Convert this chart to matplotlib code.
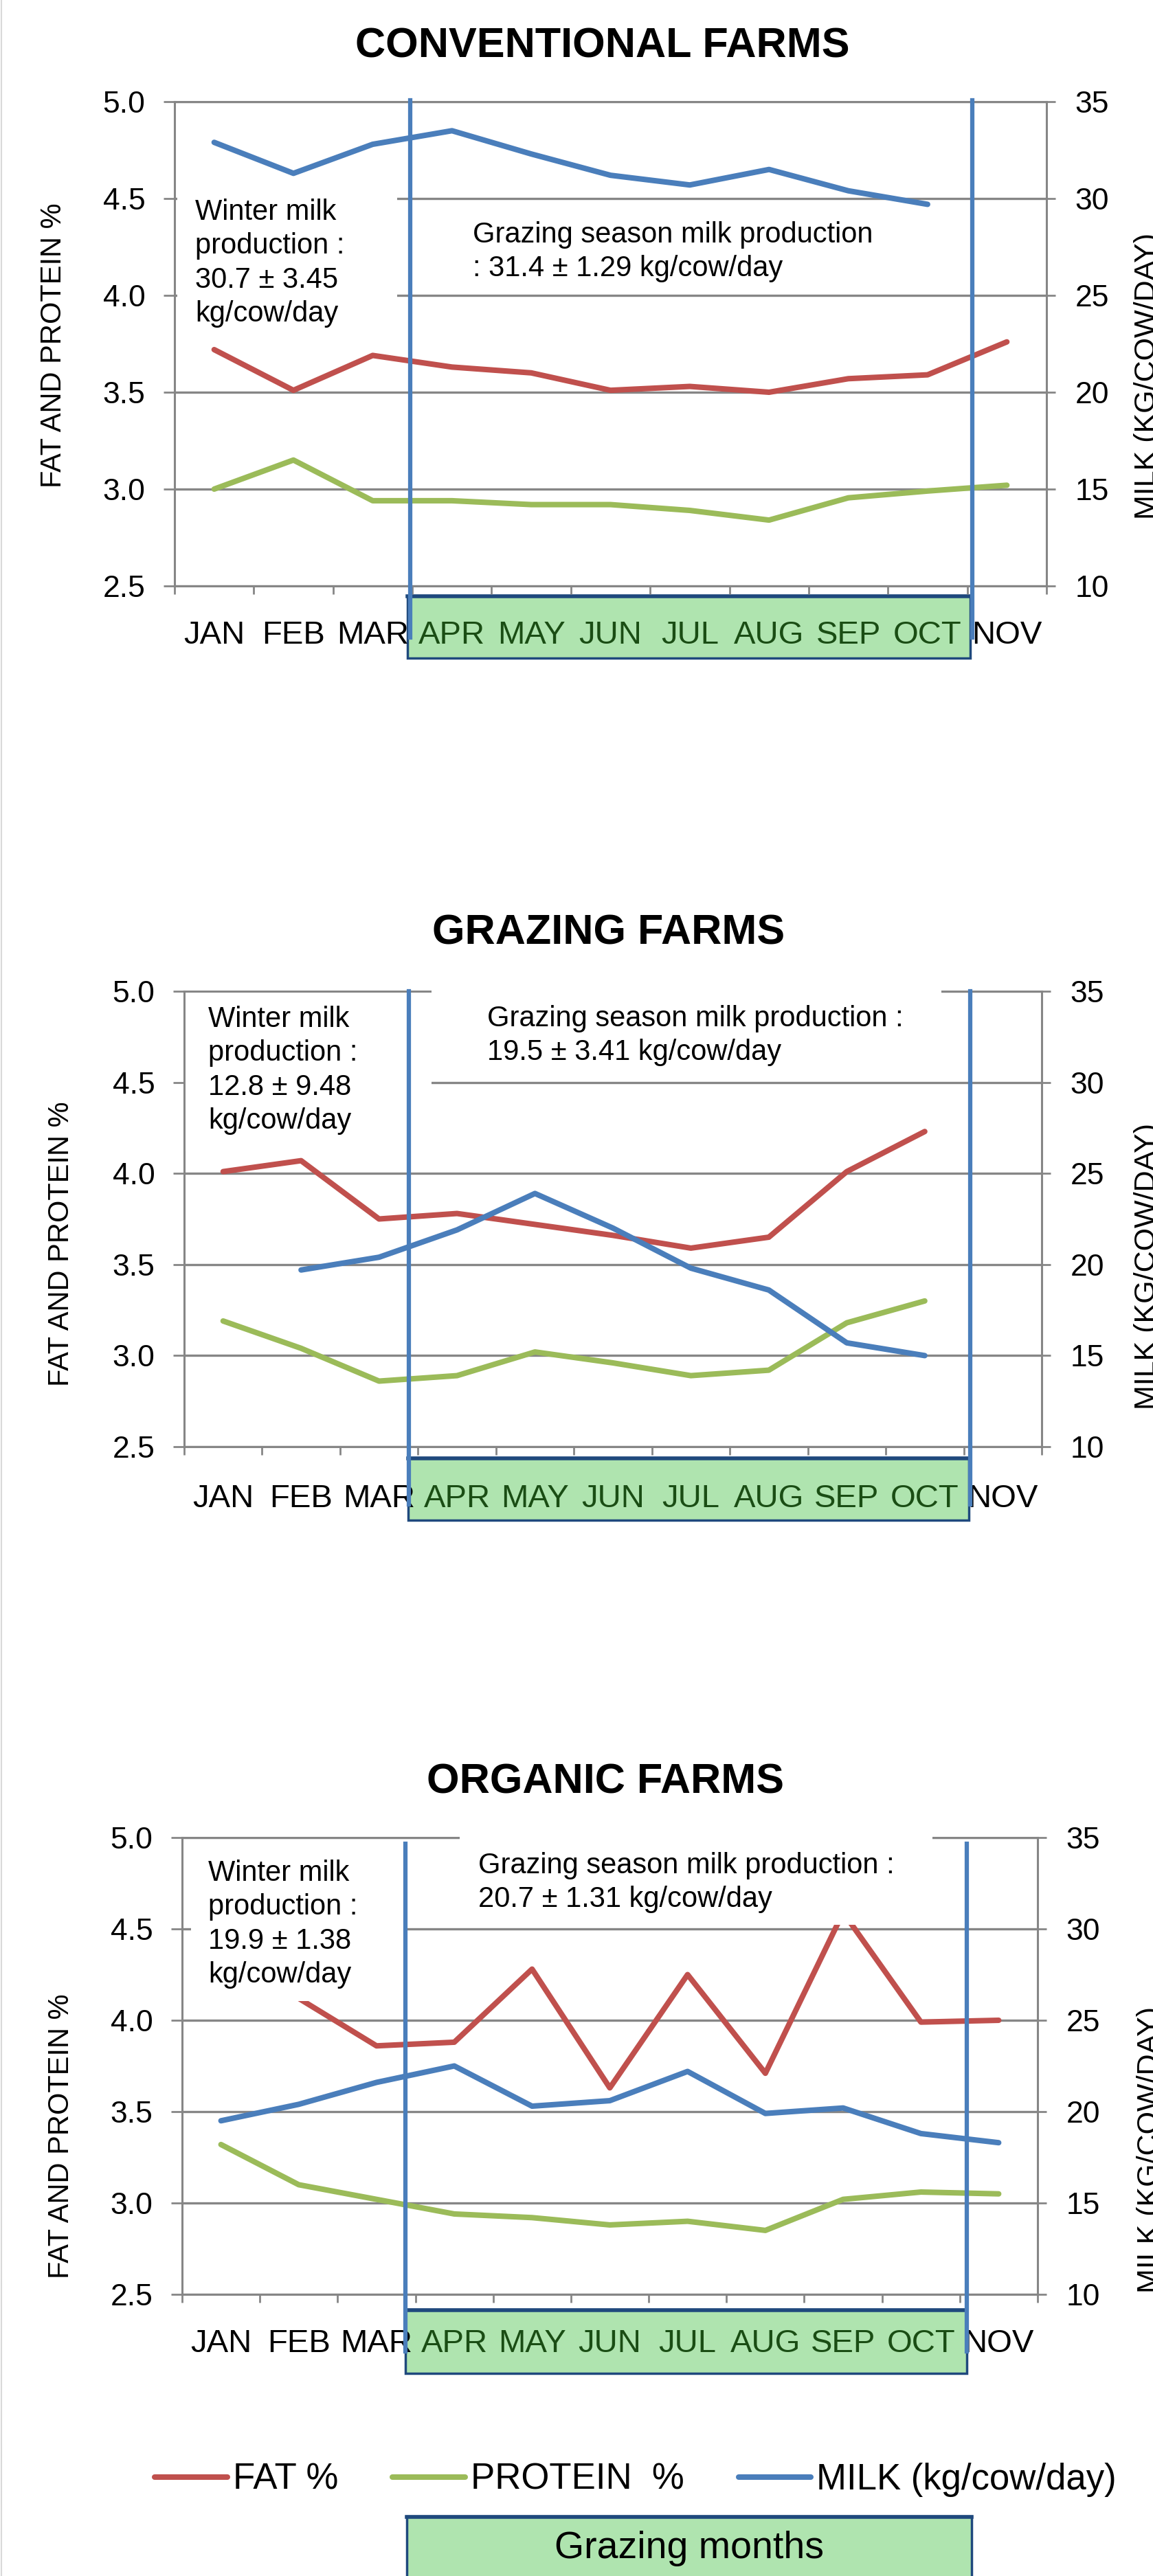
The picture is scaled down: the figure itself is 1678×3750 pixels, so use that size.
import numpy as np
import matplotlib
matplotlib.use('Agg')
import matplotlib.pyplot as plt
from matplotlib.patches import Rectangle
from matplotlib.lines import Line2D

# --- data -----------------------------------------------------------------
months = ['JAN', 'FEB', 'MAR', 'APR', 'MAY', 'JUN', 'JUL', 'AUG', 'SEP', 'OCT', 'NOV']
grazing_months = ['APR', 'MAY', 'JUN', 'JUL', 'AUG', 'SEP', 'OCT']
nan = np.nan

conv_fat = [3.72, 3.51, 3.69, 3.63, 3.60, 3.51, 3.53, 3.50, 3.57, 3.59, 3.76]
conv_protein = [3.00, 3.15, 2.94, 2.94, 2.92, 2.92, 2.89, 2.84, 2.955, 2.99, 3.02]
conv_milk = [32.9, 31.3, 32.8, 33.5, 32.3, 31.2, 30.7, 31.5, 30.4, 29.7, nan]

graz_fat = [4.01, 4.07, 3.75, 3.78, 3.72, 3.66, 3.59, 3.65, 4.01, 4.23, nan]
graz_protein = [3.19, 3.04, 2.86, 2.89, 3.02, 2.96, 2.89, 2.92, 3.18, 3.30, nan]
graz_milk = [nan, 19.7, 20.4, 21.9, 23.9, 22.0, 19.8, 18.6, 15.7, 15.0, nan]

org_fat = [4.30, 4.12, 3.86, 3.88, 4.28, 3.63, 4.25, 3.71, 4.59, 3.99, 4.00]
org_protein = [3.32, 3.10, 3.02, 2.94, 2.92, 2.88, 2.90, 2.85, 3.02, 3.06, 3.05]
org_milk = [19.5, 20.4, 21.6, 22.5, 20.3, 20.6, 22.2, 19.9, 20.2, 18.8, 18.3]

titles = ['CONVENTIONAL FARMS', 'GRAZING FARMS', 'ORGANIC FARMS']
winter_notes = ['Winter milk\nproduction :\n30.7 ± 3.45\nkg/cow/day',
                'Winter milk\nproduction :\n12.8 ± 9.48\nkg/cow/day',
                'Winter milk\nproduction :\n19.9 ± 1.38\nkg/cow/day']
grazing_notes = ['Grazing season milk production\n: 31.4 ± 1.29 kg/cow/day',
                 'Grazing season milk production :\n19.5 ± 3.41 kg/cow/day',
                 'Grazing season milk production :\n20.7 ± 1.31 kg/cow/day']

# --- style ----------------------------------------------------------------
RED = '#C0504D'
GREEN = '#9BBB59'
BLUE = '#4A7EBB'
GRID = '#868686'
BOXGREEN = '#AFE4AF'
NAVY = '#1F497D'
DARKGREEN = '#1A4D14'

W, H = 1678, 3750
plt.rcParams['font.family'] = ['Liberation Sans', 'DejaVu Sans']

fig = plt.figure(figsize=(W / 100, H / 100), dpi=100)


def fx(x):
    return x / W


def fy(y):
    return 1 - y / H


def rect(x0, y0, x1, y1, **kw):
    r = Rectangle((fx(x0), fy(y1)), (x1 - x0) / W, (y1 - y0) / H,
                  transform=fig.transFigure, **kw)
    fig.add_artist(r)


def vline(x, y0, y1, **kw):
    fig.add_artist(Line2D([fx(x), fx(x)], [fy(y0), fy(y1)],
                          transform=fig.transFigure, **kw))


# pixel layout of each panel
layouts = [
    dict(ax=(254, 148, 1523, 853), title=(877, 68), ylab=(78, 503), rlab=(1650, 547),
         pad=36, blue=(597, 1415, 146, 928), gbox=(593, 867, 1412, 958),
         wbox=(258, 268, 578, 488), wtxt=(284, 289),
         gwbox=None, gtxt=(688, 322)),
    dict(ax=(268, 1443, 1516, 2106), title=(886, 1359), ylab=(89, 1811), rlab=(1650, 1844),
         pad=39, blue=(595, 1412, 1443, 2190), gbox=(594, 2122, 1410, 2213),
         wbox=(270, 1445, 628, 1676), wtxt=(303, 1464),
         gwbox=(628, 1425, 1370, 1568), gtxt=(709, 1463)),
    dict(ax=(265, 2675, 1510, 3340), title=(881, 2595), ylab=(89, 3110), rlab=(1654, 3130),
         pad=36, blue=(590, 1407, 2684, 3423), gbox=(590, 3362, 1407, 3455),
         wbox=(278, 2690, 592, 2913), wtxt=(303, 2707),
         gwbox=(669, 2660, 1357, 2802), gtxt=(696, 2696)),
]

series = [(conv_fat, conv_protein, conv_milk),
          (graz_fat, graz_protein, graz_milk),
          (org_fat, org_protein, org_milk)]

x = np.arange(len(months))
line_kw = dict(lw=5.8, solid_capstyle='round', solid_joinstyle='round')

for i, lay in enumerate(layouts):
    fat, protein, milk = series[i]
    l, t, r, b = lay['ax']
    ax = fig.add_axes([fx(l), fy(b), (r - l) / W, (b - t) / H])
    ax.patch.set_visible(False)
    ax2 = ax.twinx()

    ax.plot(x, fat, color=RED, **line_kw)
    ax.plot(x, protein, color=GREEN, **line_kw)
    ax2.plot(x, milk, color=BLUE, **line_kw)

    ax.set_xlim(-0.5, len(months) - 0.5)
    ax.set_ylim(2.5, 5.0)
    ax.set_yticks(np.arange(2.5, 5.01, 0.5))
    ax.yaxis.set_major_formatter('{x:.1f}')
    ax2.set_ylim(10, 35)
    ax2.set_yticks(np.arange(10, 36, 5))

    ax.set_xticks(np.arange(-0.5, len(months)), labels=[])
    ax.set_xticks(x, labels=months, minor=True)
    for lab, m in zip(ax.get_xticklabels(minor=True), months):
        if m in grazing_months:
            lab.set_color(DARKGREEN)

    ax.grid(axis='y', color=GRID, lw=2.4)
    ax.set_axisbelow(True)
    for s in ['top', 'left', 'bottom']:
        ax.spines[s].set_color(GRID)
        ax.spines[s].set_linewidth(2.2)
    ax.spines['right'].set_visible(False)
    for s in ['top', 'left', 'bottom']:
        ax2.spines[s].set_visible(False)
    ax2.spines['right'].set_color(GRID)
    ax2.spines['right'].set_linewidth(2.2)

    ax.tick_params(axis='x', which='major', length=8.6, width=2, color=GRID, direction='out')
    ax.tick_params(axis='x', which='minor', length=0, pad=lay['pad'], labelsize=34)
    ax.tick_params(axis='y', length=11.5, width=2, color=GRID, pad=19, labelsize=32)
    ax2.tick_params(axis='y', length=9, width=2, color=GRID, pad=21, labelsize=32)

    # titles and axis labels
    fig.text(fx(lay['title'][0]), fy(lay['title'][1]), titles[i], fontsize=44,
             fontweight='bold', ha='center', va='center')
    fig.text(fx(lay['ylab'][0]), fy(lay['ylab'][1]), 'FAT AND PROTEIN %', fontsize=30,
             rotation=90, ha='center', va='center')
    fig.text(fx(lay['rlab'][0]), fy(lay['rlab'][1]), 'MILK (KG/COW/DAY)', fontsize=31,
             rotation=90, ha='left', va='center')

    # white note boxes
    rect(*lay['wbox'], facecolor='white', edgecolor='none', zorder=1)
    if lay['gwbox'] is not None:
        rect(*lay['gwbox'], facecolor='white', edgecolor='none', zorder=1)
    fig.text(fx(lay['wtxt'][0]), fy(lay['wtxt'][1]), winter_notes[i], fontsize=30,
             ha='left', va='top', linespacing=1.3, zorder=3)
    fig.text(fx(lay['gtxt'][0]), fy(lay['gtxt'][1]), grazing_notes[i], fontsize=30,
             ha='left', va='top', linespacing=1.3, zorder=3)

    # grazing season band under the axis
    gx0, gy0, gx1, gy1 = lay['gbox']
    rect(gx0, gy0, gx1, gy1, facecolor=BOXGREEN, edgecolor=NAVY, lw=2.5, zorder=-2)
    fig.add_artist(Line2D([fx(gx0), fx(gx1)], [fy(gy0 + 1), fy(gy0 + 1)],
                          transform=fig.transFigure, color=NAVY, lw=4, zorder=-1))

    bx0, bx1, by0, by1 = lay['blue']
    vline(bx0, by0, by1, color=BLUE, lw=4.5, zorder=2)
    vline(bx1, by0, by1, color=BLUE, lw=4.5, zorder=2)

# legend
handles = [Line2D([], [], color=c, **line_kw) for c in (RED, GREEN, BLUE)]
fig.legend(handles, ['FAT %', 'PROTEIN  %', 'MILK (kg/cow/day)'], loc='center',
           bbox_to_anchor=(fx(925), fy(3610)), ncol=3, frameon=False, fontsize=38,
           handlelength=2.0, handletextpad=0.15, columnspacing=1.5)

# grazing months key
rect(592, 3663, 1414, 3770, facecolor=BOXGREEN, edgecolor=NAVY, lw=2.5, zorder=-2)
fig.add_artist(Line2D([fx(592), fx(1414)], [fy(3664), fy(3664)],
                      transform=fig.transFigure, color=NAVY, lw=4, zorder=-1))
fig.text(fx(1003), fy(3710), 'Grazing months', fontsize=40, ha='center', va='center')

# faint page edge
vline(1.5, 0, H, color='#D9D9D9', lw=1.5, zorder=0)

fig.savefig('out.png', dpi=100)
